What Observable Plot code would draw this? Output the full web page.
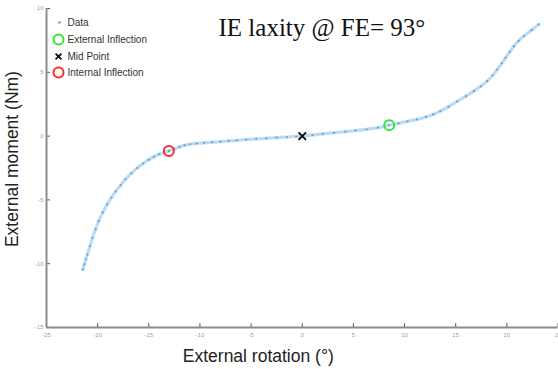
<!DOCTYPE html>
<html>
<head>
<meta charset="utf-8">
<script src="https://cdn.jsdelivr.net/npm/d3@7"></script>
<script src="https://cdn.jsdelivr.net/npm/@observablehq/plot@0.6"></script>
<style>
  html, body { margin: 0; padding: 0; background: #fff; }
  #chart { width: 558px; height: 369px; overflow: hidden; }
</style>
</head>
<body>
<div id="chart"></div>
<script>
// Data
const rotation = [-21.45, -21.3, -21.15, -21.0, -20.75, -20.5, -20.2, -19.9, -19.5, -19.07, -18.65, -18.25, -17.75, -17.28, -16.7, -16.13, -15.55, -15.0, -14.5, -14.0, -13.5, -13.04, -12.5, -12.0, -11.5, -11.0, -10.3, -9.6, -8.8, -8.0, -7.2, -6.4, -5.5, -4.5, -3.5, -2.5, -1.5, -0.6, 0.0, 1.0, 2.0, 3.1, 4.2, 5.2, 6.3, 7.4, 8.5, 9.4, 10.3, 11.2, 12.1, 12.8, 13.5, 14.3, 15.15, 16.0, 16.77, 17.45, 18.08, 18.6, 19.06, 19.5, 19.87, 20.3, 20.68, 21.15, 21.66, 22.4, 23.12];
const moment = [-10.45, -10.05, -9.65, -9.27, -8.62, -7.97, -7.3, -6.66, -5.98, -5.35, -4.82, -4.35, -3.85, -3.38, -2.92, -2.5, -2.15, -1.85, -1.62, -1.43, -1.29, -1.16, -1.0, -0.85, -0.72, -0.64, -0.58, -0.53, -0.48, -0.43, -0.38, -0.33, -0.27, -0.22, -0.17, -0.12, -0.07, -0.03, 0.0, 0.08, 0.17, 0.26, 0.35, 0.44, 0.53, 0.66, 0.85, 1.0, 1.16, 1.31, 1.5, 1.7, 1.96, 2.3, 2.72, 3.13, 3.52, 3.9, 4.31, 4.75, 5.22, 5.7, 6.14, 6.62, 7.05, 7.47, 7.84, 8.3, 8.75];

const externalInflection = {x: 8.5, y: 0.86};
const midPoint = {x: 0, y: 0};
const internalInflection = {x: -13.04, y: -1.16};

const xTicks = [-25, -20, -15, -10, -5, 0, 5, 10, 15, 20, 25];
const yTicks = [-15, -10, -5, 0, 5, 10];

const legendLabels = ["Data", "External Inflection", "Mid Point", "Internal Inflection"];
const titleText = "IE laxity @ FE= 93°";
const xLabel = "External rotation (°)";
const yLabel = "External moment (Nm)";

const points = rotation.map((x, i) => ({x, y: moment[i]}));

const axisGrey = "#8c8c8c";
const dataBlue = "#0072BD";
const legendDy = [14, 31, 48, 64];

const chart = Plot.plot({
  width: 558,
  height: 369,
  marginLeft: 46,
  marginRight: 0.5,
  marginTop: 8,
  marginBottom: 42,
  style: {fontFamily: "'Liberation Sans', Arial, sans-serif", background: "#fff", overflow: "visible"},
  x: {domain: [-25, 25]},
  y: {domain: [-15, 10]},
  marks: [
    // axes
    Plot.axisX({ticks: xTicks, tickSize: 0, tickPadding: 5, fontSize: 6, color: "#a0a0a0", label: null, tickFormat: d => String(d)}),
    Plot.axisY({ticks: yTicks, tickSize: 0, tickPadding: 3, fontSize: 6, color: "#a0a0a0", label: null, tickFormat: d => String(d)}),
    Plot.ruleX(xTicks, {x: d => d, y1: -15, y2: -14.7, stroke: "#555", strokeWidth: 1}),
    Plot.ruleY(yTicks, {y: d => d, x1: -25, x2: -24.6, stroke: "#555", strokeWidth: 1}),
    Plot.ruleY([-15], {stroke: axisGrey, strokeWidth: 2}),
    Plot.ruleX([-25], {stroke: axisGrey, strokeWidth: 2}),
    // data
    Plot.line(points, {x: "x", y: "y", stroke: "#5aa6e0", strokeWidth: 3.2, strokeOpacity: 0.4, curve: "catmull-rom"}),
    Plot.dot(points, {x: "x", y: "y", r: 1.1, fill: dataBlue, fillOpacity: 0.5, stroke: "none"}),
    // special points
    Plot.dot([internalInflection], {x: "x", y: "y", r: 5, stroke: "#ff2a2a", strokeWidth: 2, fill: "none"}),
    Plot.dot([externalInflection], {x: "x", y: "y", r: 5, stroke: "#33e633", strokeWidth: 2, fill: "none"}),
    Plot.dot([midPoint], {x: "x", y: "y", symbol: "times", r: 3.5, stroke: "#111", strokeWidth: 2}),
    // legend
    Plot.dot([legendLabels[0]], {frameAnchor: "top-left", dx: 13, dy: legendDy[0], r: 1.3, fill: "#5aa6e0", stroke: "none"}),
    Plot.dot([legendLabels[1]], {frameAnchor: "top-left", dx: 12, dy: legendDy[1], r: 5, stroke: "#33e633", strokeWidth: 2, fill: "none"}),
    Plot.dot([legendLabels[2]], {frameAnchor: "top-left", dx: 12, dy: legendDy[2], symbol: "times", r: 2.8, stroke: "#111", strokeWidth: 1.8}),
    Plot.dot([legendLabels[3]], {frameAnchor: "top-left", dx: 12, dy: legendDy[3], r: 5, stroke: "#ff2a2a", strokeWidth: 2, fill: "none"}),
    ...legendLabels.map((lab, i) => Plot.text([lab], {frameAnchor: "top-left", text: d => d, dx: 21, dy: legendDy[i], fontSize: 10, fill: "#333", textAnchor: "start", lineAnchor: "middle"})),
    // title
    Plot.text([titleText], {frameAnchor: "top-left", text: d => d, dx: 172, dy: 27, fontSize: 25, fontFamily: "'Liberation Serif', 'Times New Roman', serif", fill: "#111", textAnchor: "start", lineAnchor: "bottom"}),
    // axis labels
    Plot.text([xLabel], {x: () => -4.3, y: () => -15, text: d => d, dy: 29, fontSize: 17.5, fill: "#222", lineAnchor: "middle"}),
    Plot.text([yLabel], {x: () => -25, y: () => -1.8, text: d => d, dx: -34, rotate: -90, fontSize: 17.5, fill: "#222", lineAnchor: "middle"})
  ]
});

document.getElementById("chart").appendChild(chart);
</script>
</body>
</html>
